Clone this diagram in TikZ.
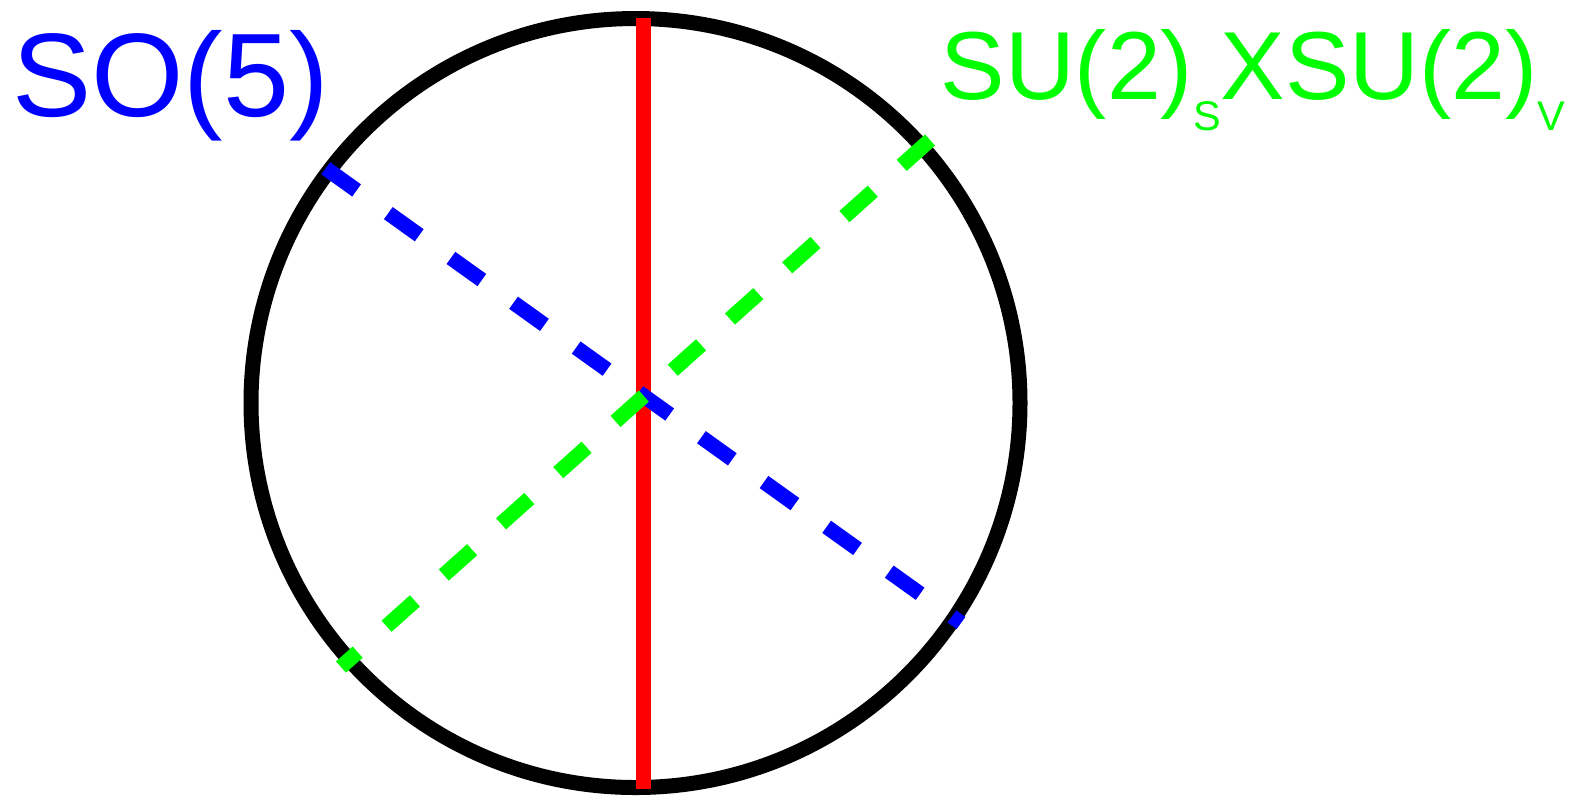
\documentclass[tikz,border=0pt]{standalone}
\usepackage{fontspec}
\setmainfont{Liberation Sans}
\usepackage{xcolor}
\usepackage{tikz}
\usetikzlibrary{positioning}

\definecolor{soblue}{RGB}{0,0,255}
\definecolor{sugreen}{RGB}{0,255,0}
\definecolor{axisred}{RGB}{255,0,0}

\tikzset{
    thick line/.style={line width=1.5mm},
    dashed line/.style={line width=1.5mm, dash pattern=on 3.8mm off 3.9mm},
}

\begin{document}
\begin{tikzpicture}[x=0.1mm, y=-0.1mm]
        \useasboundingbox (0,0) rectangle (1584,795);

        \node (sphere) [draw, circle, thick line, inner sep=0pt, minimum size=76.9mm] at (635.5,403) {};

        \coordinate (redtop) at (643.5,18);
        \coordinate (redbot) at (643.5,789);
        \coordinate (bluestart) at (325.7,168.3);
        \coordinate (blueend) at (961,623);
        \coordinate (greenstart) at (930,140);
        \coordinate (greenend) at (341,667);

        \draw [axisred, thick line] (redtop) -- (redbot);
        \draw [soblue, dashed line] (bluestart) -- (blueend);
        \draw [sugreen, dashed line, dash pattern=on 3.8mm off 3.88mm] (greenstart) -- (greenend);

        \node (so) [anchor=base west, inner sep=0pt, text=soblue, font=\fontsize{33.8pt}{36pt}\selectfont] at (11.6,116.5) {SO(5)};
        \node (su) [anchor=base west, inner sep=0pt, text=sugreen, font=\fontsize{27.5pt}{30pt}\selectfont] at (940,99)
            {SU(2)\raisebox{-9.1pt}{\fontsize{11.8pt}{14pt}\selectfont S}XSU(2)\raisebox{-9.1pt}{\fontsize{11.8pt}{14pt}\selectfont V}};
    \end{tikzpicture}
\end{document}
